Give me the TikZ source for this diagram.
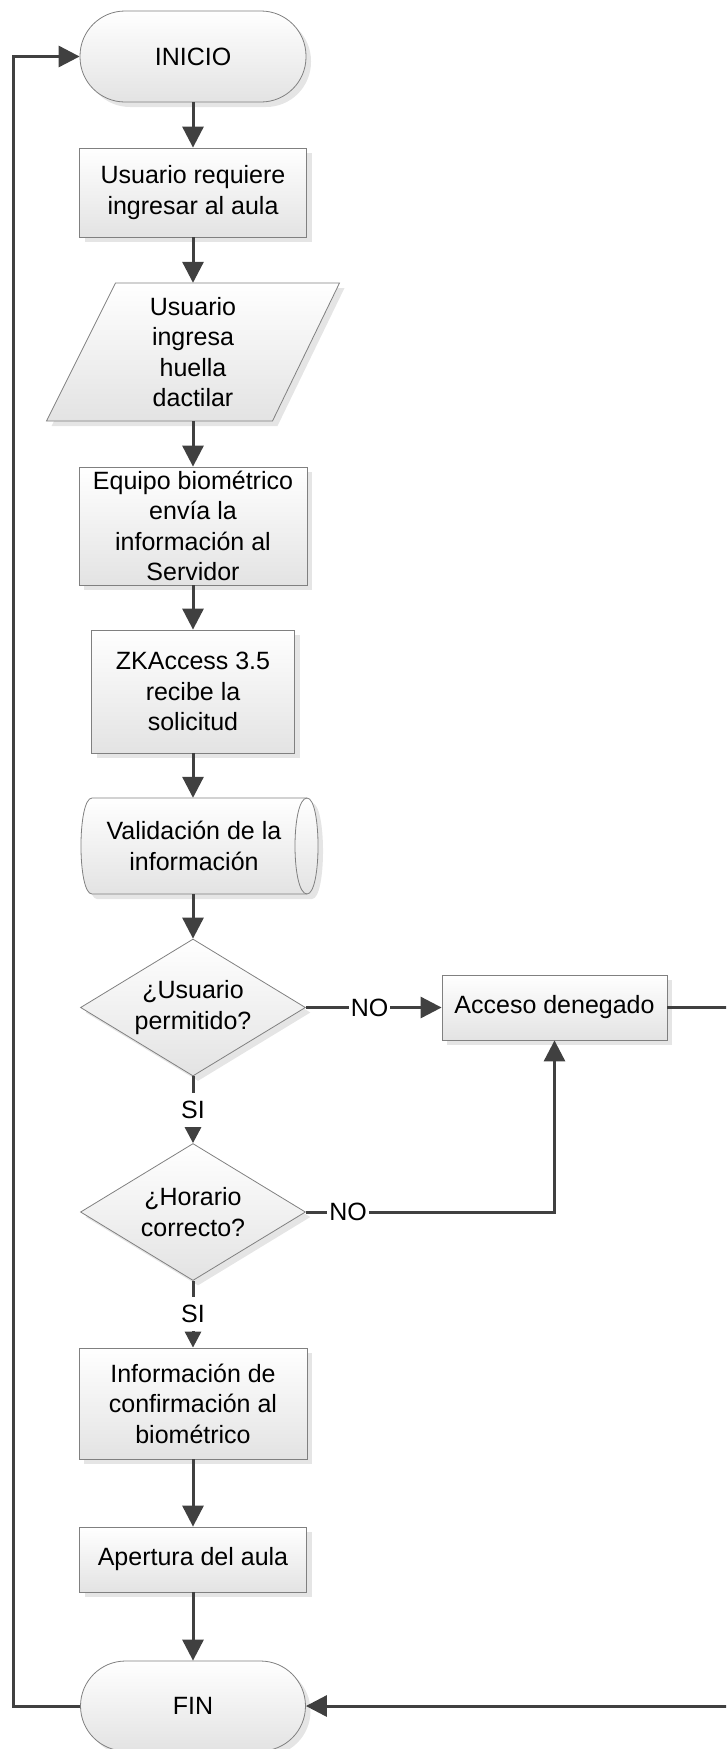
\documentclass[tikz,border=0pt]{standalone}
\usepackage{fontspec}
\setmainfont{Liberation Sans}
\usetikzlibrary{arrows.meta,shapes.geometric,shadows}
\definecolor{ln}{HTML}{404040}
\definecolor{bd}{HTML}{808080}
\newcommand{\fsz}{\fontsize{25}{30.5}\selectfont}
\tikzset{
  shp/.style={draw=bd, line width=0.8pt, top color=white, bottom color=black!11,
     drop shadow={shadow xshift=5pt, shadow yshift=-5pt, fill=black!10, opacity=1}},
  boxn/.style={shp, rectangle, align=center, inner sep=0pt, font=\fsz},
  term/.style={boxn, rounded corners=45pt},
  dec/.style={shp, diamond, aspect=1.64, align=center, inner sep=0pt, font=\fsz,
     minimum width=225pt, minimum height=137pt},
  txt/.style={align=center, inner sep=0pt, font=\fsz},
  conn/.style={draw=ln, line width=3pt, -{Triangle[length=21pt,width=21pt]}},
  sconn/.style={draw=ln, line width=3pt, -{Triangle[length=16pt,width=16pt]}},
  lbl/.style={fill=white, inner sep=2pt, font=\fsz},
}
\begin{document}
\begin{tikzpicture}[x=1pt, y=-1pt]
\path[use as bounding box] (0,0) rectangle (726,1749);
\clip (0,0) rectangle (726,1749);

% nodes
\node[term, minimum width=226pt, minimum height=91pt] (ini) at (193,56.5) {INICIO};
\node[boxn, minimum width=227pt, minimum height=89pt] (b1) at (193,192.5) {Usuario requiere\\ingresar al aula};

\path[shp] (115.5,283) -- (339.5,283) -- (272.5,421) -- (46.5,421) -- cycle;
\node[txt, minimum width=293pt, minimum height=138pt] (par) at (193,352) {Usuario\\ingresa\\huella\\dactilar};

\node[boxn, minimum width=228pt, minimum height=118pt] (eq) at (193,526) {Equipo biométrico\\envía la\\información al\\Servidor};
\node[boxn, minimum width=203pt, minimum height=123pt] (zk) at (193,691.5) {ZKAccess 3.5\\recibe la\\solicitud};

\path[shp] (92,798) -- (307,798) .. controls (321.7,798) and (321.7,894) .. (307,894)
   -- (92,894) .. controls (77.3,894) and (77.3,798) .. (92,798) -- cycle;
\draw[draw=bd, line width=0.8pt] (307,798) .. controls (291,798) and (291,894) .. (307,894);
\node[txt, minimum width=236pt, minimum height=96pt] (val) at (194,846) {Validación de la\\información};

\node[dec] (d1) at (193,1007.5) {¿Usuario\\permitido?};
\node[boxn, minimum width=225pt, minimum height=65pt] (ac) at (554.5,1007.5) {Acceso denegado};
\node[dec] (d2) at (193,1212) {¿Horario\\correcto?};
\node[boxn, minimum width=228pt, minimum height=111pt] (inf) at (193,1403.5) {Información de\\confirmación al\\biométrico};
\node[boxn, minimum width=227pt, minimum height=65pt] (ap) at (193,1559.5) {Apertura del aula};
\node[term, minimum width=225pt, minimum height=90pt] (fin) at (193,1706) {FIN};

\coordinate (lc) at (13,0);
\coordinate (rc) at (745,0);

% connectors
\draw[conn] (ini.south) -- (b1.north);
\draw[conn] (b1.south) -- (par.north);
\draw[conn] (par.south) -- (eq.north);
\draw[conn] (eq.south) -- (zk.north);
\draw[conn] (zk.south) -- (zk.south |- val.north);
\draw[conn] (val.south -| d1.north) -- (d1.north);
\draw[conn] (d1.east) -- node[lbl, pos=0.47] {NO} (ac.west);
\draw[sconn] (d1.south) -- node[lbl, inner sep=0pt, minimum height=34pt] {SI} (d2.north);
\draw[conn] (d2.east) -- node[lbl, pos=0.17] {NO} (d2.east -| ac.south) -- (ac.south);
\draw[sconn] (d2.south) -- node[lbl, inner sep=0pt, minimum height=34pt] {SI} (inf.north);
\draw[conn] (inf.south) -- (ap.north);
\draw[conn] (ap.south) -- (fin.north);
\draw[conn] (ac.east) -- (ac.east -| rc) |- (fin.east);
\draw[conn] (fin.west) -- (fin.west -| lc) |- (ini.west);
\end{tikzpicture}
\end{document}
